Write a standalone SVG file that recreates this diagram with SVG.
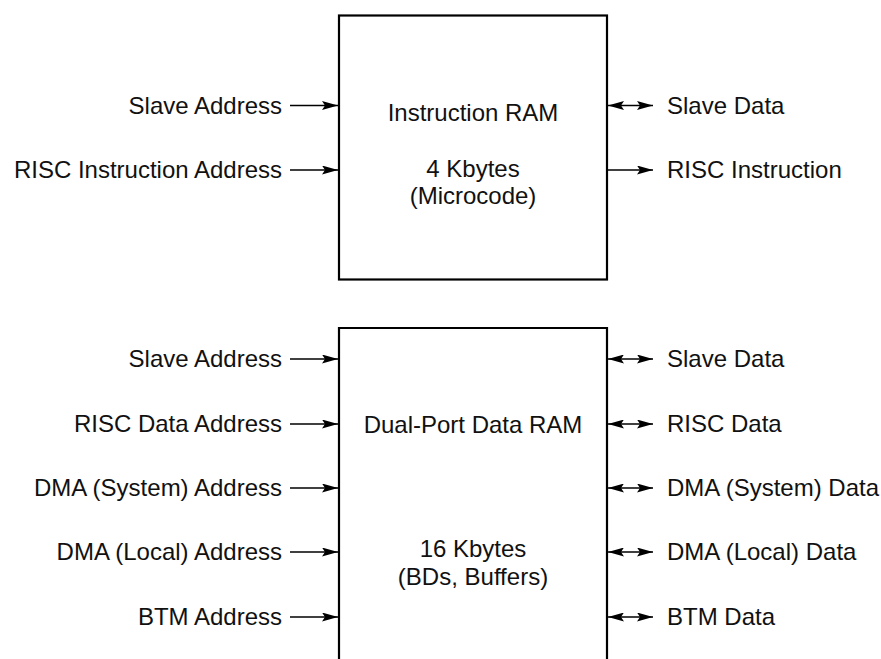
<svg xmlns="http://www.w3.org/2000/svg" width="881" height="659" viewBox="0 0 881 659">
<defs>
<marker id="ah" viewBox="0 0 16 9" refX="16" refY="4.5" markerWidth="16" markerHeight="9" markerUnits="userSpaceOnUse" orient="auto-start-reverse">
<path d="M0,0 L16,4.5 L0,9 L3,4.5 Z" fill="#000"/>
</marker>
<style>
.box{fill:#fff;stroke:#000;stroke-width:2.2}
.t{font-family:"Liberation Sans",Arial,sans-serif;font-size:24px;fill:#111}
.l{text-anchor:end}
.c{text-anchor:middle}
.w{stroke:#000;stroke-width:1.3;fill:none}
.a{marker-end:url(#ah)}
.d{marker-start:url(#ah);marker-end:url(#ah)}
</style>
</defs>
<rect width="881" height="659" fill="#fff"/>
<g id="instruction-ram">
<rect class="box" x="339" y="15.5" width="268" height="264"/>
<text class="t c" x="473" y="121">Instruction RAM</text>
<text class="t c" x="473" y="177">4 Kbytes</text>
<text class="t c" x="473" y="204">(Microcode)</text>
</g>
<g id="data-ram">
<path class="box" d="M339,662 V328 H607 V662"/>
<text class="t c" x="473" y="433">Dual-Port Data RAM</text>
<text class="t c" x="473" y="557">16 Kbytes</text>
<text class="t c" x="473" y="585">(BDs, Buffers)</text>
</g>
<g id="labels">
<text class="t l" x="282" y="114">Slave Address</text>
<text class="t l" x="282" y="178">RISC Instruction Address</text>
<text class="t" x="667" y="114">Slave Data</text>
<text class="t" x="667" y="178">RISC Instruction</text>
<text class="t l" x="282" y="367">Slave Address</text>
<text class="t l" x="282" y="432">RISC Data Address</text>
<text class="t l" x="282" y="496">DMA (System) Address</text>
<text class="t l" x="282" y="560">DMA (Local) Address</text>
<text class="t l" x="282" y="625">BTM Address</text>
<text class="t" x="667" y="367">Slave Data</text>
<text class="t" x="667" y="432">RISC Data</text>
<text class="t" x="667" y="496">DMA (System) Data</text>
<text class="t" x="667" y="560">DMA (Local) Data</text>
<text class="t" x="667" y="625">BTM Data</text>
</g>
<g id="connectors">
<line class="w a" x1="290" y1="105.5" x2="338" y2="105.5"/>
<line class="w a" x1="290" y1="170" x2="338" y2="170"/>
<line class="w d" x1="608" y1="105.5" x2="653" y2="105.5"/>
<line class="w a" x1="608" y1="170" x2="653" y2="170"/>
<line class="w a" x1="290" y1="359" x2="338" y2="359"/>
<line class="w a" x1="290" y1="424" x2="338" y2="424"/>
<line class="w a" x1="290" y1="488" x2="338" y2="488"/>
<line class="w a" x1="290" y1="552" x2="338" y2="552"/>
<line class="w a" x1="290" y1="617" x2="338" y2="617"/>
<line class="w d" x1="608" y1="359" x2="653" y2="359"/>
<line class="w d" x1="608" y1="424" x2="653" y2="424"/>
<line class="w d" x1="608" y1="488" x2="653" y2="488"/>
<line class="w d" x1="608" y1="552" x2="653" y2="552"/>
<line class="w d" x1="608" y1="617" x2="653" y2="617"/>
</g>
</svg>
